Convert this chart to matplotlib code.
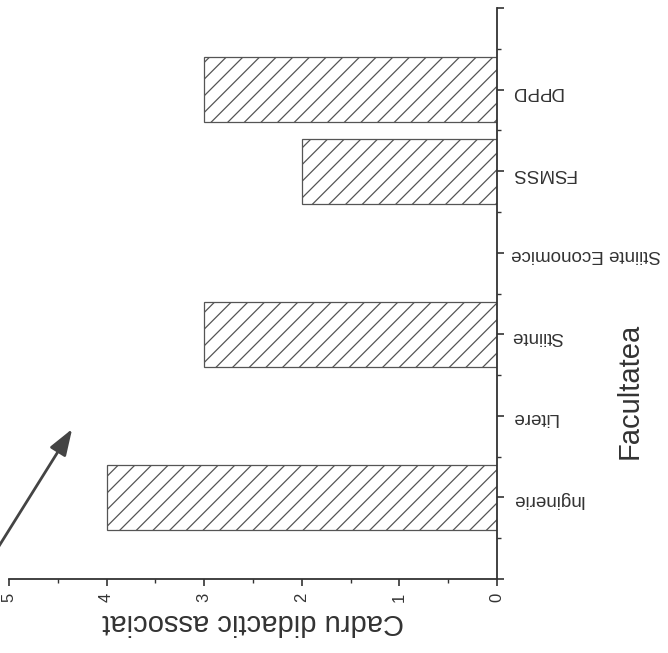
import matplotlib
matplotlib.use('Agg')
import matplotlib.pyplot as plt
from matplotlib.ticker import MultipleLocator

categories = ['Inginerie', 'Litere', 'Stiinte', 'Stiinte Economice', 'FSMSS', 'DPPD']
values = [4, 0, 3, 0, 2, 3]
value_ticks = [0, 1, 2, 3, 4, 5]
value_labels = ['0', '1', '2', '3', '4', '5']

plt.rcParams['font.family'] = ['Liberation Sans', 'DejaVu Sans']
plt.rcParams['hatch.color'] = '#444444'
plt.rcParams['hatch.linewidth'] = 0.9

fig = plt.figure(figsize=(6.68, 6.53), dpi=100)
ax = fig.add_axes([0.0135, 0.1133, 0.7305, 0.8744])

pos = list(range(1, len(categories) + 1))
ax.barh(pos, values, height=0.8, color='white', edgecolor='#555555',
        linewidth=0.9, hatch='//')

ax.set_xlim(value_ticks[-1], value_ticks[0])
ax.set_ylim(0, len(categories) + 1)

for s in ['top', 'left']:
    ax.spines[s].set_visible(False)
for s in ['right', 'bottom']:
    ax.spines[s].set_linewidth(1.3)
    ax.spines[s].set_color('#333333')

ax.yaxis.tick_right()
ax.yaxis.set_label_position('right')
ax.set_yticks([0] + pos + [len(categories) + 1])
ax.set_yticklabels([''] + categories + [''], rotation=180, fontsize=13.5, color='#333333')
ax.yaxis.set_minor_locator(MultipleLocator(0.5))

ax.set_xticks(value_ticks)
ax.set_xticklabels(value_labels, rotation=90, fontsize=12, color='#333333')
ax.xaxis.set_minor_locator(MultipleLocator(0.5))

ax.tick_params(which='major', direction='out', length=5, width=1.2, color='#333333', pad=5)
ax.tick_params(which='minor', direction='out', length=3, width=1.0, color='#333333')

ax.set_xlabel('Cadru didactic associat', rotation=180, fontsize=21, color='#333333', labelpad=4)
ax.set_ylabel('Facultatea', fontsize=21, color='#333333')
ax.yaxis.label.set(ha='center', va='center', rotation=90, rotation_mode='anchor')
ax.yaxis.set_label_coords(1.2725, 0.33)

ax.annotate('', xy=(0.108, 0.343), xytext=(-0.005, 0.158),
            xycoords='figure fraction', textcoords='figure fraction',
            arrowprops=dict(arrowstyle='-|>,head_length=0.8,head_width=0.28',
                            color='#444444', lw=2, mutation_scale=20,
                            shrinkA=0, shrinkB=0))

fig.savefig('out.png', dpi=100, facecolor='white')
